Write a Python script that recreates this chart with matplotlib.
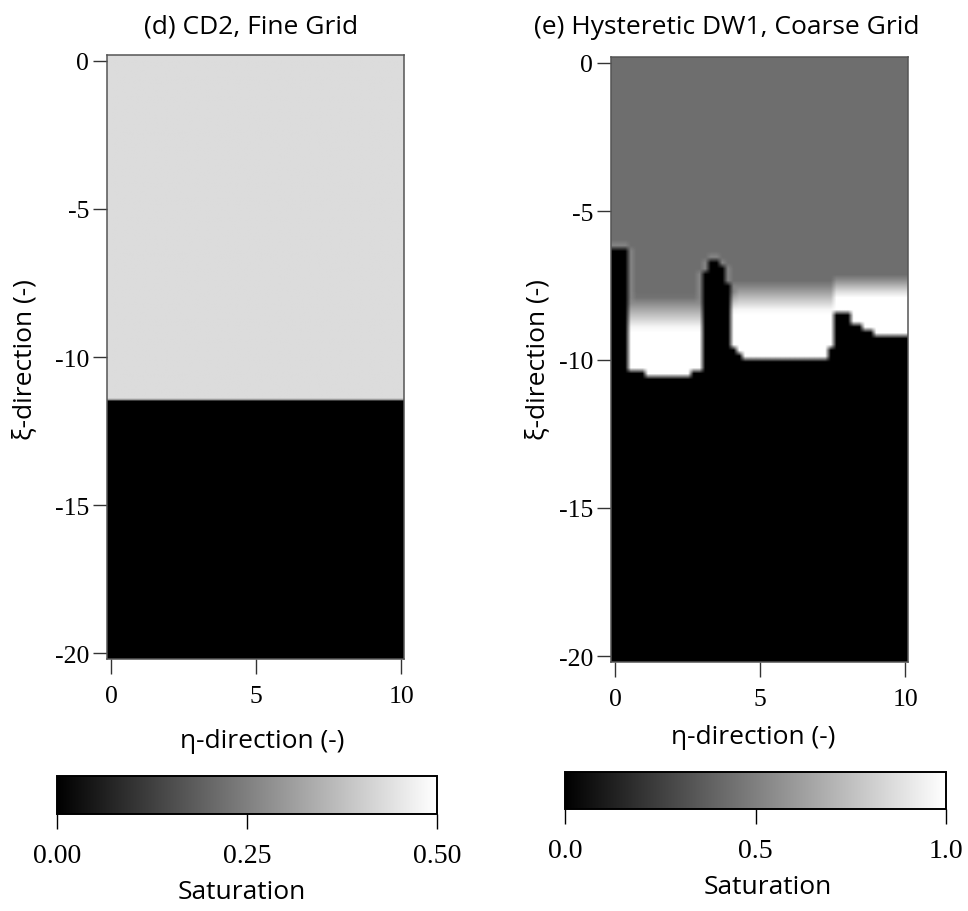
import numpy as np
import matplotlib
matplotlib.use("Agg")
import matplotlib.pyplot as plt
from matplotlib.cm import ScalarMappable
from matplotlib.colors import Normalize

plt.rcParams["axes.unicode_minus"] = False
SANS = ["Open Sans", "DejaVu Sans"]
SERIF = ["Liberation Serif", "DejaVu Serif"]

# axis ranges (eta across, xi down)
eta_lim = (-0.15, 10.1)
xi_lim = (-20.2, 0.2)
eta_ticks = [0, 5, 10]
xi_ticks = [0, -5, -10, -15, -20]

# (d) CD2 fine grid: residual saturation above a flat front
d_front_xi = -11.45
d_upper_sat = 0.43
d_cbar_ticks = [0.0, 0.25, 0.5]
d_cbar_labels = ["0.00", "0.25", "0.50"]

# (e) hysteretic DW1 coarse grid, read column by column
# top of the black (dry) region, piecewise over eta
e_black_eta = [-0.15, 0.42, 0.58, 1.0, 2.6, 2.95, 3.15, 3.6, 3.85, 4.05, 4.25,
               4.45, 7.1, 7.4, 7.6, 8.1, 8.45, 9.0, 10.1]
e_black_xi = [-6.25, -10.3, -10.4, -10.5, -10.35, -7.0, -6.65, -6.85, -7.4,
              -9.6, -9.85, -10.05, -9.95, -9.7, -8.4, -8.75, -9.05, -9.25]
# grey -> white transition (start of fade, start of full white)
e_fade_eta = [-0.15, 0.42, 2.95, 4.25, 7.5, 10.1]
e_fade_top = [-7.9, -7.9, -7.6, -7.4, -7.2]
e_fade_bot = [-9.0, -9.0, -8.4, -8.4, -7.9]
e_upper_sat = 0.43
e_halo_sat = 0.52
e_cbar_ticks = [0.0, 0.5, 1.0]
e_cbar_labels = ["0.0", "0.5", "1.0"]


def piecewise(edges, vals, x):
    idx = np.clip(np.searchsorted(edges, x, side="right") - 1, 0, len(vals) - 1)
    return np.asarray(vals)[idx]


def field_d(nx=200, ny=400):
    xi = np.linspace(xi_lim[1], xi_lim[0], ny)
    S = np.where(xi > d_front_xi, d_upper_sat, 0.0)
    k = np.argmin(np.abs(xi - d_front_xi))
    S[k] = 0.3
    return np.repeat(S[:, None], nx, axis=1)


def field_e(nx=52, ny=104):
    deta = (eta_lim[1] - eta_lim[0]) / nx
    dxi = (xi_lim[1] - xi_lim[0]) / ny
    eta = eta_lim[0] + deta * (np.arange(nx) + 0.5)
    xi = xi_lim[1] - dxi * (np.arange(ny) + 0.5)
    black = piecewise(e_black_eta, e_black_xi, eta)
    ftop = piecewise(e_fade_eta, e_fade_top, eta)
    fbot = piecewise(e_fade_eta, e_fade_bot, eta)
    XI = xi[:, None]
    t = np.clip((ftop[None, :] - XI) / (ftop - fbot)[None, :], 0, 1)
    S = e_upper_sat + (1.0 - e_upper_sat) * t
    dry = XI <= black[None, :]
    # light halo in the grey zone next to the dry cells
    near = np.zeros_like(dry)
    near[:, 1:] |= dry[:, :-1]
    near[:, :-1] |= dry[:, 1:]
    near[:-1, :] |= dry[1:, :]
    halo = near & ~dry & (t < 0.5)
    S = np.where(halo, np.maximum(S, e_halo_sat), S)
    S = np.where(dry, 0.0, S)
    return S


fig = plt.figure(figsize=(9.68, 9.12), dpi=100)


def panel(rect, S, vmax, cbar_rect, cticks, clabels, title, title_xy,
          ylab_x, xlab_xy, sat_xy):
    ax = fig.add_axes(rect)
    ax.imshow(S, cmap="gray", vmin=0, vmax=vmax, aspect="auto",
              interpolation="bilinear",
              extent=(eta_lim[0], eta_lim[1], xi_lim[0], xi_lim[1]))
    ax.set_xlim(eta_lim); ax.set_ylim(xi_lim)
    ax.set_xticks(eta_ticks); ax.set_yticks(xi_ticks)
    ax.tick_params(direction="out", length=10, width=1.0, color="#333333",
                   labelsize=18.5, pad=3)
    ax.tick_params(axis="x", length=11, pad=8)
    for lab in ax.get_xticklabels() + ax.get_yticklabels():
        lab.set_family(SERIF)
    for sp in ax.spines.values():
        sp.set_color("#555555"); sp.set_linewidth(1.1)

    cax = fig.add_axes(cbar_rect)
    cb = fig.colorbar(ScalarMappable(Normalize(0, vmax), cmap="gray"),
                      cax=cax, orientation="horizontal")
    cb.set_ticks(cticks)
    cb.set_ticklabels(clabels)
    cax.tick_params(direction="out", length=11, width=1.0, labelsize=20, pad=10)
    for lab in cax.get_xticklabels():
        lab.set_family(SERIF)
    cb.outline.set_linewidth(1.4)

    W, H = 968, 912
    fig.text(title_xy[0] / W, 1 - title_xy[1] / H, title, family=SANS,
             fontsize=19, ha="center", va="center")
    fig.text(ylab_x / W, 1 - 360 / H, "ξ-direction (-)", family=SANS,
             fontsize=19, rotation=90, ha="center", va="center")
    fig.text(xlab_xy[0] / W, 1 - xlab_xy[1] / H, "η-direction (-)",
             family=SANS, fontsize=19, ha="center", va="center")
    fig.text(sat_xy[0] / W, 1 - sat_xy[1] / H, "Saturation", family=SANS,
             fontsize=19, ha="center", va="center")
    return ax


panel([0.1105, 0.2763, 0.3068, 0.6623], field_d(), 0.5,
      [0.0589, 0.1064, 0.3926, 0.0417], d_cbar_ticks, d_cbar_labels,
      "(d) CD2, Fine Grid", (251, 27), 25, (262, 742), (242, 893))
panel([0.6312, 0.2730, 0.3068, 0.6634], field_e(), 1.0,
      [0.5837, 0.1118, 0.3936, 0.0406], e_cbar_ticks, e_cbar_labels,
      "(e) Hysteretic DW1, Coarse Grid", (727, 27), 538, (753, 738), (768, 888))

fig.savefig("out.png", dpi=100)
